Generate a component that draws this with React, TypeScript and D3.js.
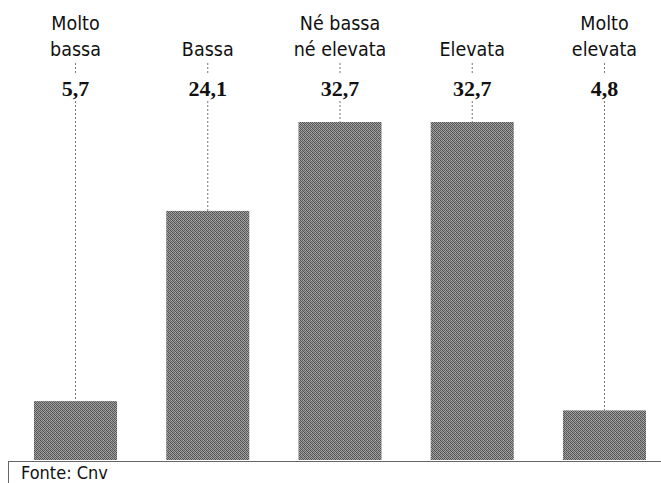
import * as d3 from "d3";

const categories = [
  ["Molto", "bassa"],
  ["Bassa"],
  ["Né bassa", "né elevata"],
  ["Elevata"],
  ["Molto", "elevata"],
];
const values = [5.7, 24.1, 32.7, 32.7, 4.8];
const valueLabels = ["5,7", "24,1", "32,7", "32,7", "4,8"];
const source = "Fonte: Cnv";

const W = 661;
const H = 483;
const baseY = 460;

const sansFont = "'DejaVu Sans Condensed', 'Liberation Sans Narrow', 'Noto Sans', sans-serif";
const serifFont = "'Liberation Serif', 'DejaVu Serif', serif";

export default function App() {
  const keys = categories.map((_, i) => String(i));
  const x = d3
    .scaleBand<string>()
    .domain(keys)
    .range([9.4, 670.6])
    .paddingInner(0.372)
    .paddingOuter(0.186);

  // 32.7 -> 338px tall
  const y = d3.scaleLinear().domain([0, 32.7]).range([baseY, 122]);

  return (
    <svg
      width={W}
      height={H}
      style={{ position: "absolute", left: 0, top: 0, background: "#fff" }}
    >
      <defs>
        <pattern id="dither" width="4" height="4" patternUnits="userSpaceOnUse">
          <rect width="4" height="4" fill="#9a9a9a" />
          <rect x="0" y="0" width="1" height="1" fill="#4a4a4a" />
          <rect x="2" y="0" width="1" height="1" fill="#5e5e5e" />
          <rect x="1" y="1" width="1" height="1" fill="#555" />
          <rect x="3" y="1" width="1" height="1" fill="#636363" />
          <rect x="0" y="2" width="1" height="1" fill="#5a5a5a" />
          <rect x="2" y="2" width="1" height="1" fill="#4e4e4e" />
          <rect x="1" y="3" width="1" height="1" fill="#666" />
          <rect x="3" y="3" width="1" height="1" fill="#525252" />
          <rect x="3" y="0" width="1" height="1" fill="#b0b0b0" />
          <rect x="1" y="2" width="1" height="1" fill="#a8a8a8" />
        </pattern>
      </defs>

      {values.map((v, i) => {
        const cx = (x(keys[i]) ?? 0) + x.bandwidth() / 2;
        const lines = categories[i];
        const firstBase = lines.length === 2 ? 30 : 56;
        return (
          <g key={i}>
            {lines.map((t, j) => (
              <text
                key={j}
                x={cx}
                y={firstBase + j * 26}
                textAnchor="middle"
                fontFamily={sansFont}
                fontSize={19.5}
                fill="#111"
              >
                {t}
              </text>
            ))}
            <line
              x1={cx}
              x2={cx}
              y1={63}
              y2={73}
              stroke="#777"
              strokeWidth={1}
              strokeDasharray="2,2"
            />
            <text
              x={cx}
              y={96}
              textAnchor="middle"
              fontFamily={serifFont}
              fontWeight="bold"
              fontSize={22}
              fill="#111"
            >
              {valueLabels[i]}
            </text>
            <line
              x1={cx}
              x2={cx}
              y1={101}
              y2={y(v)}
              stroke="#777"
              strokeWidth={1}
              strokeDasharray="2,2"
            />
            <rect
              x={x(keys[i])}
              y={y(v)}
              width={x.bandwidth()}
              height={baseY - y(v)}
              fill="url(#dither)"
            />
          </g>
        );
      })}

      <line x1={8} x2={W} y1={baseY + 1.5} y2={baseY + 1.5} stroke="#666" strokeWidth={1} />
      <line x1={8.5} x2={8.5} y1={baseY + 1} y2={H} stroke="#666" strokeWidth={1} />
      <text x={21} y={479} fontFamily={sansFont} fontSize={18} fill="#111">
        {source}
      </text>
    </svg>
  );
}
